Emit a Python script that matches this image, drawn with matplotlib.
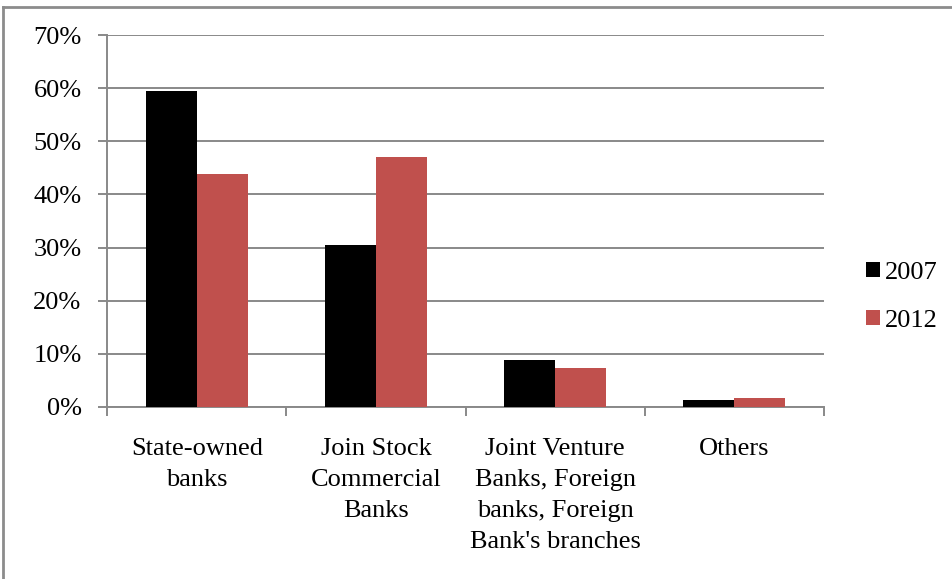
import matplotlib
matplotlib.use("Agg")
import matplotlib.pyplot as plt
import numpy as np
from matplotlib.lines import Line2D

categories = ["State-owned\nbanks", "Join Stock\nCommercial\nBanks",
              "Joint Venture\nBanks, Foreign\nbanks, Foreign\nBank's branches", "Others"]
series_names = ["2007", "2012"]
values_2007 = [59.5, 30.4, 8.8, 1.3]
values_2012 = [43.9, 47.1, 7.2, 1.7]
yticks = [0, 10, 20, 30, 40, 50, 60, 70]
ytick_labels = ["0%", "10%", "20%", "30%", "40%", "50%", "60%", "70%"]

plt.rcParams['font.family'] = ['Liberation Serif', 'DejaVu Serif']
FS = 19

fig = plt.figure(figsize=(9.53, 5.79), dpi=100)
ax = fig.add_axes([107.3/953, 1-406.7/579, (824-107.3)/953, (406.7-35.3)/579])

x = np.arange(len(categories))
w = 0.285
ax.bar(x - w/2, values_2007, width=w, color="#000000", label=series_names[0], zorder=3)
ax.bar(x + w/2, values_2012, width=w, color="#C0504D", label=series_names[1], zorder=3)

ax.set_xlim(-0.5, len(categories) - 0.5)
ax.set_ylim(0, 70)
ax.set_yticks(yticks)
ax.set_yticklabels(ytick_labels, fontsize=FS)
ax.yaxis.grid(True, color="#898989", linewidth=1.4, zorder=0)
ax.set_axisbelow(True)

ax.set_xticks(x)
ax.set_xticklabels(categories, fontsize=FS, linespacing=1.53, va="top")
ax.set_xticks(np.arange(len(categories) + 1) - 0.5, minor=True)
ax.tick_params(axis="x", which="major", length=0, pad=22.5)
ax.tick_params(axis="x", which="minor", length=6.5, width=1.4, color="#898989", direction="out")
ax.tick_params(axis="y", length=6.5, width=1.4, color="#898989", direction="out", pad=12)

for s in ["top", "right"]:
    ax.spines[s].set_visible(False)
for s in ["left", "bottom"]:
    ax.spines[s].set_color("#898989")
    ax.spines[s].set_linewidth(1.4)

leg = ax.legend(loc="center left", bbox_to_anchor=(866/953, 1-297/579), bbox_transform=fig.transFigure,
                frameon=False, fontsize=FS, handlelength=0.53, handleheight=0.5,
                handletextpad=0.2, labelspacing=0.97, borderpad=0, borderaxespad=0)

# chart outer border (top and left visible)
fig.add_artist(Line2D([3/953, 3/953], [0, 1-7/579], transform=fig.transFigure, color="#8c8c8c", linewidth=2))
fig.add_artist(Line2D([3/953, 1], [1-7/579, 1-7/579], transform=fig.transFigure, color="#8c8c8c", linewidth=2))

fig.savefig("out.png", dpi=100, facecolor="white")
